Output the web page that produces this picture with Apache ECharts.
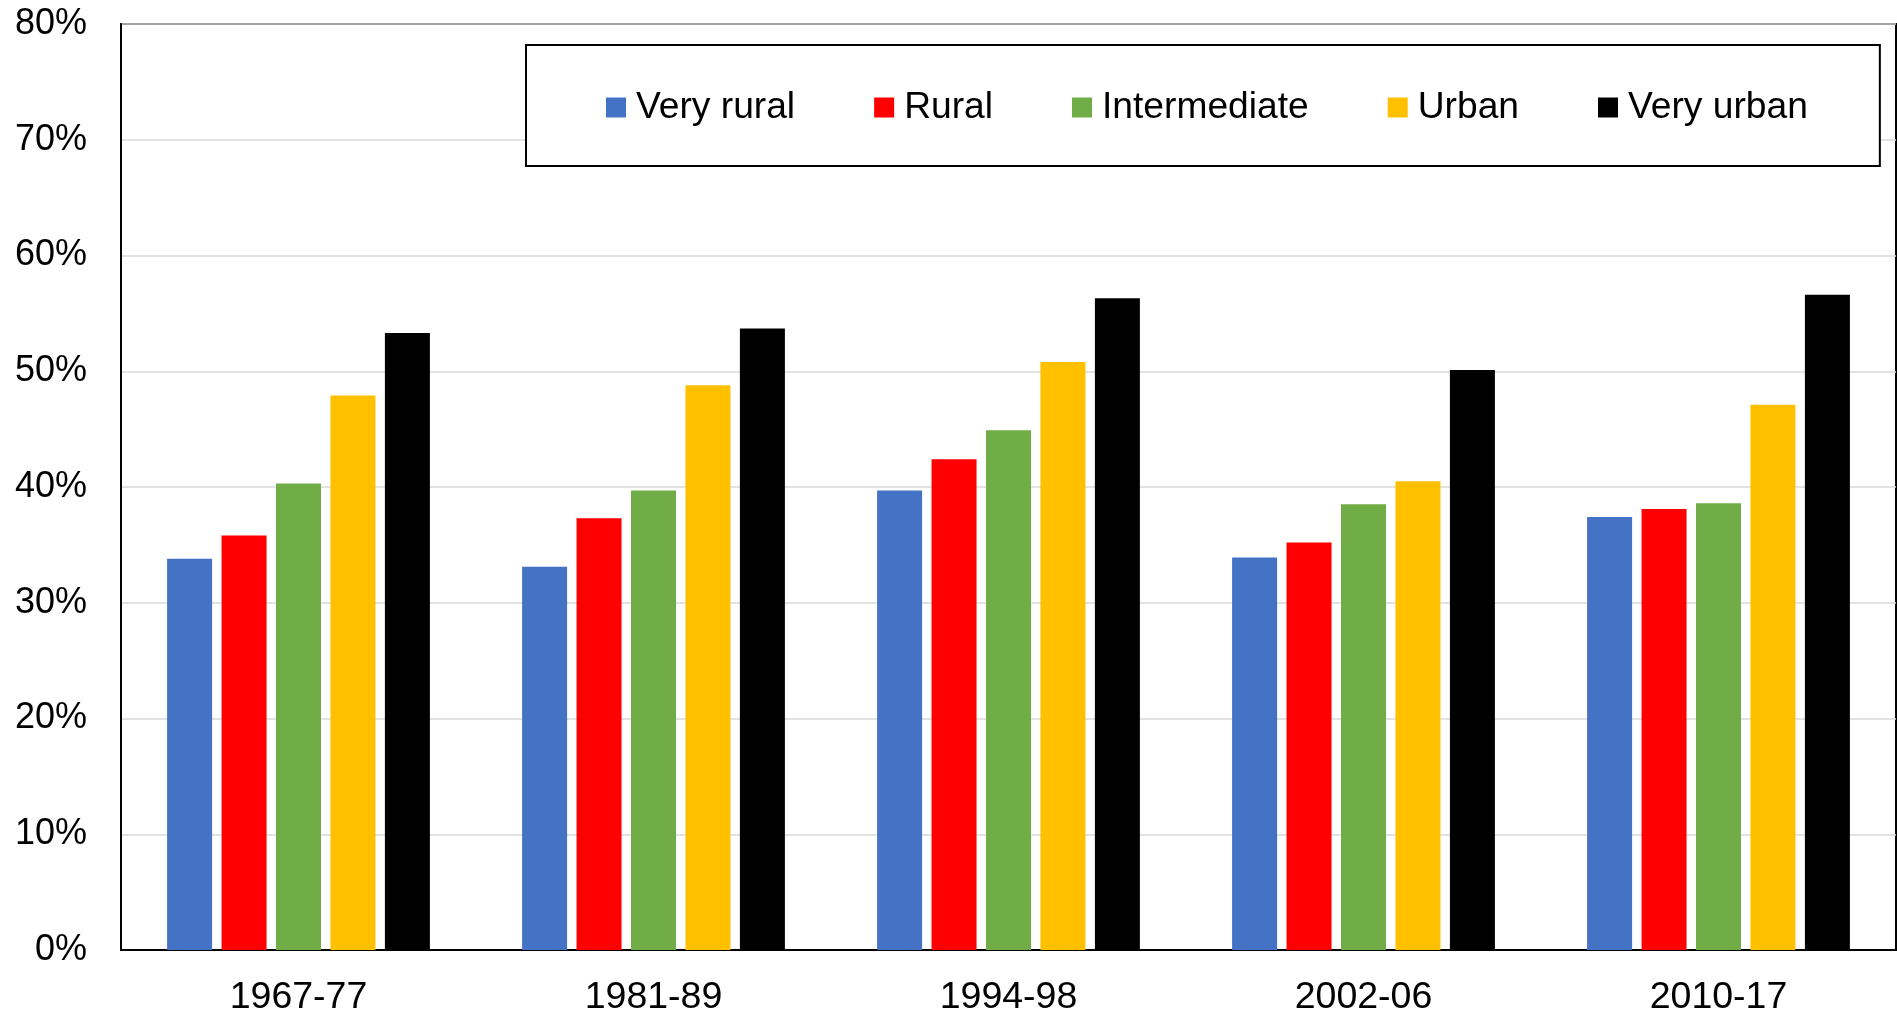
<!DOCTYPE html>
<html>
<head>
<meta charset="utf-8">
<script src="https://cdn.jsdelivr.net/npm/echarts@6/dist/echarts.min.js"></script>
<style>
html,body{margin:0;padding:0;background:#fff;}
#chart{width:1897px;height:1014px;}
</style>
</head>
<body>
<div id="chart"></div>
<script>
const categories = ['1967-77', '1981-89', '1994-98', '2002-06', '2010-17'];
const seriesNames = ['Very rural', 'Rural', 'Intermediate', 'Urban', 'Very urban'];
const veryRural = [33.8, 33.1, 39.7, 33.9, 37.4];
const rural = [35.8, 37.3, 42.4, 35.2, 38.1];
const intermediate = [40.3, 39.7, 44.9, 38.5, 38.6];
const urban = [47.9, 48.8, 50.8, 40.5, 47.1];
const veryUrban = [53.3, 53.7, 56.3, 50.1, 56.6];
const colors = ['#4472C4', '#FF0000', '#70AD47', '#FFC000', '#000000'];

const FONT = 'Arial, "Liberation Sans", sans-serif';
const allData = [veryRural, rural, intermediate, urban, veryUrban];

const chart = echarts.init(document.getElementById('chart'), null, {renderer: 'canvas'});
chart.setOption({
  animation: false,
  backgroundColor: '#fff',
  color: colors,
  textStyle: {fontFamily: FONT},
  grid: {
    left: 121, right: 1, top: 24, bottom: 64,
    show: true, borderColor: '#000', borderWidth: 2,
    containLabel: false, outerBoundsMode: 'none'
  },
  legend: {
    left: 526, top: 45,
    padding: [44, 72, 40, 80],
    borderColor: '#000', borderWidth: 2,
    backgroundColor: '#fff',
    itemWidth: 20, itemHeight: 20, itemGap: 79,
    icon: 'rect',
    textStyle: {fontSize: 37.2, color: '#000', fontFamily: FONT, padding: [0, 0, 0, 5]},
    data: seriesNames
  },
  xAxis: {
    type: 'category',
    data: categories,
    axisLine: {show: true, lineStyle: {color: '#000', width: 2}},
    axisTick: {show: false},
    axisLabel: {fontSize: 37.5, color: '#000', margin: 29, fontFamily: FONT},
    splitLine: {show: false}
  },
  yAxis: {
    type: 'value',
    min: 0, max: 80, interval: 10,
    axisLine: {show: true, lineStyle: {color: '#000', width: 2}},
    axisTick: {show: false},
    axisLabel: {fontSize: 36, color: '#000', margin: 34, fontFamily: FONT, formatter: v => v + '%'},
    splitLine: {show: true, lineStyle: {color: '#d9d9d9', width: 1.5}}
  },
  series: seriesNames.map((name, i) => ({
    name: name,
    type: 'bar',
    data: allData[i],
    barWidth: 45,
    barGap: '21%',
    itemStyle: {color: colors[i]}
  }))
});
</script>
</body>
</html>
